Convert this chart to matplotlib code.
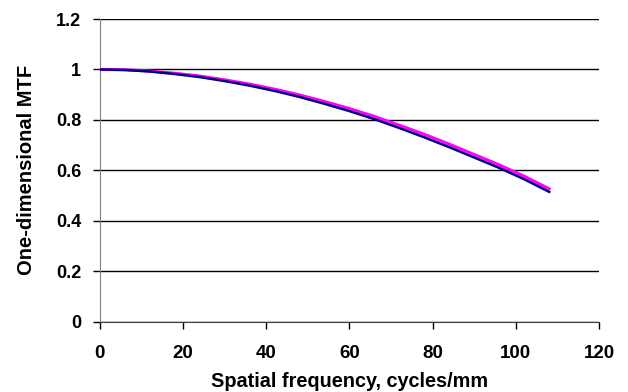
import matplotlib
matplotlib.use("Agg")
import matplotlib.pyplot as plt

plt.rcParams['font.family'] = ['Liberation Sans', 'DejaVu Sans']

# spatial frequency, cycles/mm
freq = [0, 6, 12, 18, 24, 30, 36, 42, 48, 54, 60, 66, 72, 78, 84, 90, 96, 102, 108]
# two MTF curves
mtf_blue = [1.000, 0.998, 0.992, 0.982, 0.970, 0.954, 0.936, 0.915, 0.891, 0.864,
            0.835, 0.803, 0.768, 0.731, 0.692, 0.651, 0.610, 0.565, 0.515]
mtf_pink = [1.000, 0.999, 0.994, 0.985, 0.974, 0.959, 0.942, 0.922, 0.899, 0.873,
            0.845, 0.814, 0.779, 0.743, 0.704, 0.663, 0.622, 0.577, 0.527]

xticks = [0, 20, 40, 60, 80, 100, 120]
yticks = [0, 0.2, 0.4, 0.6, 0.8, 1, 1.2]
yticklabels = ['0', '0.2', '0.4', '0.6', '0.8', '1', '1.2']

fig = plt.figure(figsize=(6.28, 3.92), dpi=100)
ax = fig.add_axes([0.159, 0.179, 0.795, 0.7725])

ax.plot(freq, mtf_pink, color='#FF00FF', lw=2.2, zorder=3)
ax.plot(freq, mtf_blue, color='#000080', lw=1.8, zorder=4)

ax.set_xlim(0, 120)
ax.set_ylim(0, 1.2)
ax.set_xticks(xticks)
ax.set_yticks(yticks)
ax.set_yticklabels(yticklabels)
ax.grid(axis='y', color='black', lw=1)
ax.set_axisbelow(True)

for s in ['top', 'right']:
    ax.spines[s].set_visible(False)
ax.spines['left'].set_color('#808080')
ax.spines['bottom'].set_color('#404040')
ax.tick_params(axis='y', length=5, width=1, color='black', pad=8.5)
ax.tick_params(axis='x', length=5, width=1, color='black', pad=12)
for lab in ax.get_xticklabels():
    lab.set_fontsize(13.5)
    lab.set_fontweight('bold')
for lab in ax.get_yticklabels():
    lab.set_fontsize(13)
    lab.set_fontweight('bold')

ax.set_xlabel('Spatial frequency, cycles/mm', fontsize=14.3, fontweight='bold', labelpad=7)
ax.set_ylabel('One-dimensional MTF', fontsize=14.5, fontweight='bold', labelpad=14)

fig.savefig('out.png', dpi=100)
